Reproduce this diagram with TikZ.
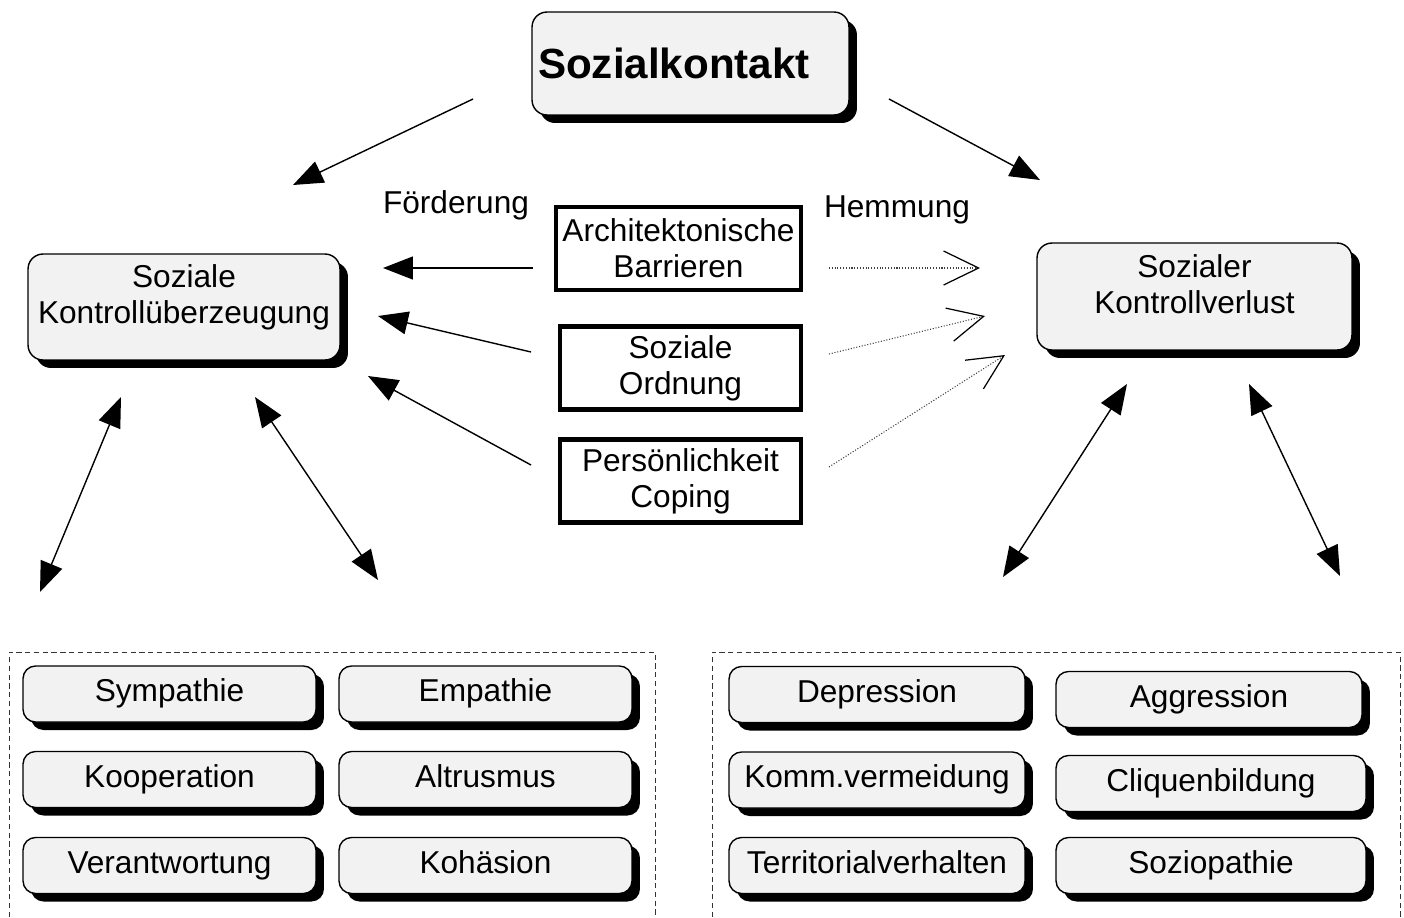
\documentclass[tikz,border=0pt]{standalone}
\usepackage{fontspec}
\setmainfont{Liberation Sans}
\usetikzlibrary{arrows.meta,shadows}

\begin{document}
\begin{tikzpicture}[x=0.02cm,y=-0.02cm,
    every node/.style={font=\fontsize{18}{20.5}\selectfont},
    box/.style={draw,line width=0.8pt,fill=black!5,rounded corners=0.3cm,align=center,
        drop shadow={shadow xshift=0.16cm,shadow yshift=-0.16cm,opacity=1,fill=black}},
    item/.style={box,rounded corners=0.25cm,minimum height=1.12cm,text height=13pt,text depth=4pt},
    midbox/.style={draw,line width=2.3pt,align=center,inner sep=0pt,
        minimum width=4.9cm,minimum height=1.66cm},
    pfeil/.style={line width=0.8pt,-{Triangle[length=0.6cm,width=0.46cm]}},
    doppel/.style={line width=0.8pt,{Triangle[length=0.6cm,width=0.46cm]}-{Triangle[length=0.6cm,width=0.46cm]}},
    hemm/.style={densely dotted,line width=0.6pt,black!75,
        -{Straight Barb[length=0.7cm,width=0.68cm,line width=0.7pt,black]}},
    rahmen/.style={densely dashed,line width=0.5pt,black!80}]

    \useasboundingbox (0,0) rectangle (1404,917);

    % top and the two sides
    \node[box,minimum width=6.34cm,minimum height=2.06cm,text width=6.1cm,align=left,
        inner xsep=0.12cm,font=\fontsize{24}{28}\selectfont\bfseries] (kontakt) at (690.5,63.5) {Sozialkontakt};
    \node[box,minimum width=6.24cm,minimum height=2.12cm,text depth=15pt] (kue) at (184,307) {Soziale\\Kontrollüberzeugung};
    \node[box,minimum width=6.3cm,minimum height=2.14cm,text depth=14pt] (kvl) at (1194.5,296.5) {Sozialer\\Kontrollverlust};

    % middle
    \node[midbox] (arch) at (678.5,248.5) {Architektonische\\Barrieren};
    \node[midbox,minimum width=4.82cm] (ord) at (680.5,368) {Soziale\\Ordnung};
    \node[midbox,minimum width=4.82cm] (pers) at (680.5,481) {Persönlichkeit\\Coping};
    \node (foerd) at (456,205) {Förderung};
    \node (hemmung) at (897,210) {Hemmung};

    % frames
    \draw[rahmen] (9,917) -- (9,652) -- (655,652) -- (655,917);
    \draw[rahmen] (712,917) -- (712,652) -- (1400,652) -- (1400,917);

    % left items
    \node[item,minimum width=5.86cm] (sym) at (169.5,694) {Sympathie};
    \node[item,minimum width=5.86cm] (emp) at (485.5,694) {Empathie};
    \node[item,minimum width=5.86cm] (koop) at (169.5,779.5) {Kooperation};
    \node[item,minimum width=5.86cm] (alt) at (485.5,779.5) {Altrusmus};
    \node[item,minimum width=5.86cm] (ver) at (169.5,865.5) {Verantwortung};
    \node[item,minimum width=5.86cm] (koh) at (485.5,865.5) {Kohäsion};

    % right items
    \node[item,minimum width=5.92cm] (dep) at (877,694.5) {Depression};
    \node[item,minimum width=6.12cm] (agg) at (1209,699.5) {Aggression};
    \node[item,minimum width=5.92cm] (komm) at (877,780) {Komm.vermeidung};
    \node[item,minimum width=6.2cm] (cliq) at (1211,783.5) {Cliquenbildung};
    \node[item,minimum width=5.92cm] (terr) at (877,865.5) {Territorialverhalten};
    \node[item,minimum width=6.2cm] (sozio) at (1211,865.5) {Soziopathie};

    % arrow ends
    \coordinate (kontakt-l) at (473,99);
    \coordinate (kue-o) at (293,185);
    \coordinate (kontakt-r) at (889,99);
    \coordinate (kvl-o) at (1040,180);
    \coordinate (arch-l) at (533,268);
    \coordinate (kue-1) at (383,268);
    \coordinate (ord-l) at (531,352);
    \coordinate (kue-2) at (378,316);
    \coordinate (pers-l) at (531,465);
    \coordinate (kue-3) at (368,376);
    \coordinate (arch-r) at (829,268);
    \coordinate (kvl-1) at (980,268);
    \coordinate (ord-r) at (829,354);
    \coordinate (kvl-2) at (985,316);
    \coordinate (pers-r) at (829,467);
    \coordinate (kvl-3) at (1005,355);
    \coordinate (kue-u1) at (121,397);
    \coordinate (links-1) at (40,592);
    \coordinate (kue-u2) at (255,397);
    \coordinate (links-2) at (378,580);
    \coordinate (kvl-u1) at (1127,384);
    \coordinate (rechts-1) at (1003,577);
    \coordinate (kvl-u2) at (1249,384);
    \coordinate (rechts-2) at (1340,576);

    % arrows
    \draw[pfeil] (kontakt-l) -- (kue-o);
    \draw[pfeil] (kontakt-r) -- (kvl-o);
    \draw[pfeil] (arch-l) -- (kue-1);
    \draw[pfeil] (ord-l) -- (kue-2);
    \draw[pfeil] (pers-l) -- (kue-3);
    \draw[hemm] (arch-r) -- (kvl-1);
    \draw[hemm] (ord-r) -- (kvl-2);
    \draw[hemm] (pers-r) -- (kvl-3);
    \draw[doppel] (kue-u1) -- (links-1);
    \draw[doppel] (kue-u2) -- (links-2);
    \draw[doppel] (kvl-u1) -- (rechts-1);
    \draw[doppel] (kvl-u2) -- (rechts-2);

\end{tikzpicture}
\end{document}
